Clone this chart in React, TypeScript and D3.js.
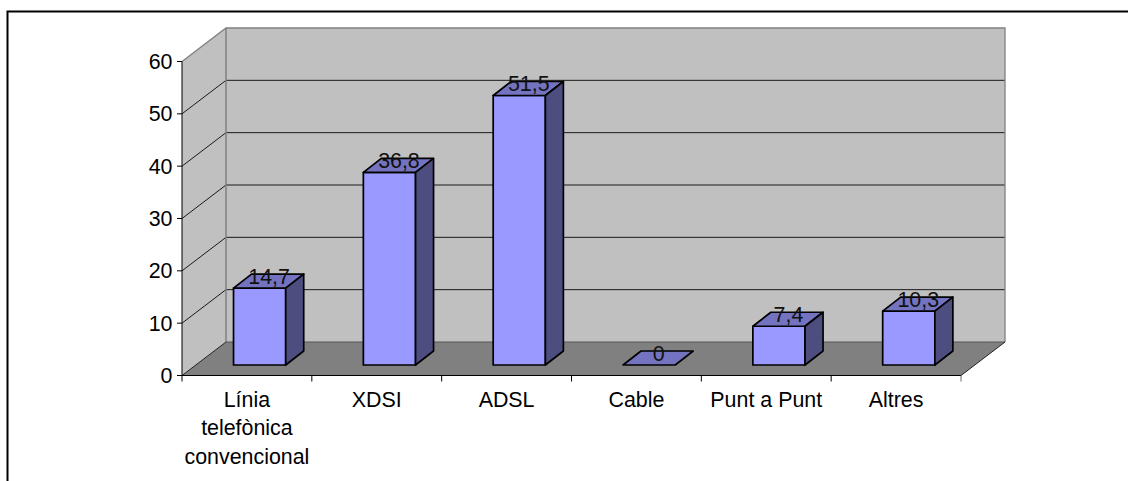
import React from "react";
import * as d3 from "d3";

const categories = [["Línia", "telefònica", "convencional"], ["XDSI"], ["ADSL"], ["Cable"], ["Punt a Punt"], ["Altres"]];
const values = [14.7, 36.8, 51.5, 0, 7.4, 10.3];
const labels = ["14,7", "36,8", "51,5", "0", "7,4", "10,3"];
const yTicks = [0, 10, 20, 30, 40, 50, 60];

const font = "'Liberation Sans', Arial, sans-serif";
const x0 = 182, x1 = 961, yB = 375.5, yT = 61.5;
const backDx = 44, backDy = -33.5;
const barDx = 18, barDy = -14;
const floorOffX = 13.5, floorOffY = -10.5;
const fontSize = 21.4;

export default function App() {
  const x = d3.scaleBand<number>().domain(values.map((_, i) => i)).range([x0, x1]);
  const y = d3.scaleLinear().domain([0, 60]).range([yB, yT]);
  const step = x.step();
  const barW = step * 0.402;
  const line = d3.line();
  const poly = (p: [number, number][]) => line(p) + "Z";
  const grey = "#808080";
  return (
    <svg width={1128} height={481} style={{ position: "absolute", left: 0, top: 0, background: "#fff" }} fontFamily={font}>
      <path d="M7.5,481V11.5H1128" fill="none" stroke="#000" strokeWidth={2} />
      {/* walls */}
      <path d={poly([[x0 + backDx, y(60) + backDy], [x1 + backDx, y(60) + backDy], [x1 + backDx, yB + backDy], [x0 + backDx, yB + backDy]])} fill="#c0c0c0" />
      <path d={poly([[x0, y(60)], [x0 + backDx, y(60) + backDy], [x0 + backDx, yB + backDy], [x0, yB]])} fill="#c0c0c0" />
      <path d={poly([[x0, yB], [x1, yB], [x1 + backDx, yB + backDy], [x0 + backDx, yB + backDy]])} fill={grey} />
      {yTicks.filter((t) => t > 0 && t < 60).map((t) => (
        <path key={t} d={`M${x0},${y(t)}L${x0 + backDx},${y(t) + backDy}H${x1 + backDx}`} fill="none" stroke="#1a1a1a" strokeWidth={1} />
      ))}
      <path d={`M${x0},${y(60)}L${x0 + backDx},${y(60) + backDy}H${x1 + backDx}V${yB + backDy}`} fill="none" stroke={grey} strokeWidth={1.3} />
      <path d={`M${x0 + backDx},${y(60) + backDy}V${yB + backDy}`} fill="none" stroke={grey} strokeWidth={1.5} />
      <path d={`M${x0 + backDx},${yB + backDy}H${x1 + backDx}`} fill="none" stroke="#555" strokeWidth={1} />
      <path d={`M${x0},${yB}L${x0 + backDx},${yB + backDy}M${x1},${yB}L${x1 + backDx},${yB + backDy}`} fill="none" stroke="#222" strokeWidth={1} />
      {/* axes */}
      <path d={`M${x0},${y(60)}V${yB}H${x1}`} fill="none" stroke="#000" strokeWidth={1} />
      {yTicks.map((t) => (
        <g key={t}>
          <line x1={x0 - 5} x2={x0} y1={y(t)} y2={y(t)} stroke="#000" />
          <text x={x0 - 9.5} y={y(t) + 7.5} textAnchor="end" fontSize={fontSize} fill="#000">{t}</text>
        </g>
      ))}
      {d3.range(values.length + 1).map((i) => (
        <line key={i} x1={x0 + i * step} x2={x0 + i * step} y1={yB} y2={yB + 6} stroke={i === values.length ? "#666" : "#000"} />
      ))}
      {/* bars */}
      {values.map((v, i) => {
        const cx = x(i)! + step / 2 + floorOffX - 0.8;
        const l = cx - barW / 2, r = cx + barW / 2;
        const b = yB + floorOffY, t = y(v) + floorOffY;
        return (
          <g key={i} stroke="#000" strokeWidth={1.7} strokeLinejoin="round">
            {v > 0 && <rect x={l} y={t} width={barW} height={b - t} fill="#9999ff" />}
            <path d={poly([[l, t], [r, t], [r + barDx, t + barDy], [l + barDx, t + barDy]])} fill="#7373bf" />
            {v > 0 && <path d={poly([[r, t], [r + barDx, t + barDy], [r + barDx, b + barDy], [r, b]])} fill="#4d4d80" />}
          </g>
        );
      })}
      {values.map((v, i) => {
        const cx = x(i)! + step / 2 + floorOffX - 0.8;
        return (
          <text key={i} x={cx + 9.5} y={y(v) + floorOffY + barDy + 9.5} textAnchor="middle" fontSize={fontSize} fill="#111">{labels[i]}</text>
        );
      })}
      {categories.map((lines, i) => (
        <text key={i} textAnchor="middle" fontSize={fontSize} fill="#000">
          {lines.map((s, j) => (
            <tspan key={j} x={x(i)! + step / 2} y={406.5 + j * 28.5}>{s}</tspan>
          ))}
        </text>
      ))}
    </svg>
  );
}
